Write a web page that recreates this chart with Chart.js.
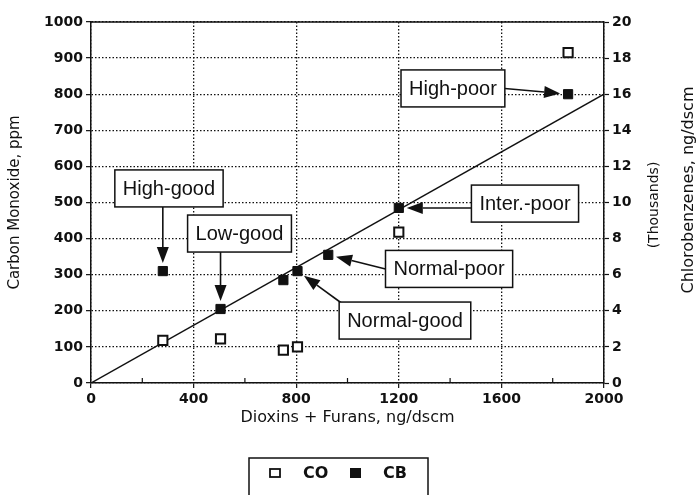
<!DOCTYPE html>
<html><head><meta charset="utf-8">
<script src="https://cdn.jsdelivr.net/npm/chart.js@4"></script>
<style>html,body{margin:0;padding:0;background:#fff}canvas{display:block}</style>
</head><body>
<canvas id="c" width="698" height="495"></canvas>
<script>
// ---- data ----
const coDioxins = [280, 505, 750, 805, 1200, 1860];      // ng/dscm
const coPpm     = [118, 122, 91, 100, 418, 915];         // CO, ppm (left axis)
const cbDioxins = [280, 505, 750, 805, 925, 1200, 1860]; // ng/dscm
const cbThous   = [6.2, 4.1, 5.7, 6.2, 7.1, 9.7, 16.0];  // CB, thousands ng/dscm (right axis)
const fitDioxins = [0, 2000];
const fitCB      = [0, 16];
const annLabels  = ['High-good', 'Low-good', 'Normal-good', 'Normal-poor', 'Inter.-poor', 'High-poor'];
const annTargets = [0, 1, 3, 4, 5, 6];   // index into CB points
const seriesNames = ['CO', 'CB'];
const xTitle = 'Dioxins + Furans, ng/dscm';
const yTitle = 'Carbon Monoxide, ppm';
const y2Title = 'Chlorobenzenes, ng/dscm';
const y2Sub = '(Thousands)';

// ---- layout of annotation boxes (box centre in data units, arrow anchor on box) ----
const annLayout = [
  {cx: 304,  cy: 539, side: 'bottom'},
  {cx: 579,  cy: 414, side: 'bottom'},
  {cx: 1224, cy: 173, fx: 0.03, fy: 0.06},
  {cx: 1396, cy: 316, fx: 0, fy: 0.5},
  {cx: 1692, cy: 497, fx: 0, fy: 0.62},
  {cx: 1411, cy: 816, fx: 1, fy: 0.5}
];

const INK = '#111';
const tickFont = {family: 'DejaVu Sans', size: 14, weight: 'bold'};
const plainTick = v => String(v);

const toXY = (xs, ys) => xs.map((x, i) => ({x: x, y: ys[i]}));

function arrow(ctx, sx, sy, tx, ty, gap) {
  const dx = tx - sx, dy = ty - sy, L = Math.hypot(dx, dy);
  const ux = dx / L, uy = dy / L;
  const ex = tx - ux * gap, ey = ty - uy * gap;
  const hl = 16, hw = 6;
  const bx = ex - ux * hl, by = ey - uy * hl;
  ctx.beginPath();
  ctx.moveTo(sx, sy); ctx.lineTo(bx, by);
  ctx.lineWidth = 1.6; ctx.strokeStyle = INK; ctx.stroke();
  ctx.beginPath();
  ctx.moveTo(ex, ey);
  ctx.lineTo(bx - uy * hw, by + ux * hw);
  ctx.lineTo(bx + uy * hw, by - ux * hw);
  ctx.closePath();
  ctx.fillStyle = INK; ctx.fill();
}

const decor = {
  id: 'decor',
  afterDatasetsDraw(chart) {
    const {ctx, chartArea: a, scales} = chart;
    const x = scales.x, y = scales.y, y2 = scales.y2;
    ctx.save();
    // solid top border
    ctx.strokeStyle = INK; ctx.lineWidth = 1.5;
    ctx.beginPath(); ctx.moveTo(a.left, a.top); ctx.lineTo(a.right, a.top); ctx.stroke();
    // minor x ticks pointing inward
    ctx.lineWidth = 1.2;
    for (let v = 200; v < 2000; v += 400) {
      const px = x.getPixelForValue(v);
      ctx.beginPath(); ctx.moveTo(px, a.bottom); ctx.lineTo(px, a.bottom - 5); ctx.stroke();
    }
    // annotation boxes with arrows
    ctx.font = '20px "Liberation Sans", Arial, sans-serif';
    ctx.textAlign = 'center'; ctx.textBaseline = 'middle';
    annLabels.forEach((lab, i) => {
      const L = annLayout[i];
      const w = ctx.measureText(lab).width + 16, h = 37;
      const cx = x.getPixelForValue(L.cx), cy = y.getPixelForValue(L.cy);
      const bx = cx - w / 2, by = cy - h / 2;
      const k = annTargets[i];
      const tx = x.getPixelForValue(cbDioxins[k]), ty = y2.getPixelForValue(cbThous[k]);
      let sx, sy;
      if (L.side === 'bottom') { sx = tx; sy = by + h; }
      else { sx = bx + L.fx * w; sy = by + L.fy * h; }
      arrow(ctx, sx, sy, tx, ty, 8);
      ctx.fillStyle = '#fff';
      ctx.fillRect(bx, by, w, h);
      ctx.lineWidth = 1.5; ctx.strokeStyle = INK;
      ctx.strokeRect(bx, by, w, h);
      ctx.fillStyle = INK;
      ctx.fillText(lab, cx, cy + 1);
    });
    ctx.restore();
  },
  afterDraw(chart) {
    const {ctx} = chart;
    ctx.save();
    ctx.fillStyle = INK;
    ctx.textAlign = 'center'; ctx.textBaseline = 'middle';
    // right axis titles, reading bottom-to-top
    ctx.save();
    ctx.translate(654, 205); ctx.rotate(-Math.PI / 2);
    ctx.font = '14px "DejaVu Sans", sans-serif';
    ctx.fillText(y2Sub, 0, 0);
    ctx.restore();
    ctx.save();
    ctx.translate(689, 190); ctx.rotate(-Math.PI / 2);
    ctx.font = '16px "DejaVu Sans", sans-serif';
    ctx.fillText(y2Title, 0, 0);
    ctx.restore();
    // legend
    ctx.strokeStyle = INK; ctx.lineWidth = 1.5;
    ctx.strokeRect(249, 458, 179, 45);
    ctx.lineWidth = 1.8;
    ctx.fillStyle = '#fff';
    ctx.fillRect(270, 469, 10, 8); ctx.strokeRect(270, 469, 10, 8);
    ctx.fillStyle = INK;
    ctx.fillRect(350, 468, 11, 10);
    ctx.font = 'bold 16px "DejaVu Sans", sans-serif';
    ctx.textAlign = 'left';
    ctx.fillText(seriesNames[0], 303, 474);
    ctx.fillText(seriesNames[1], 383, 474);
    ctx.restore();
  }
};

new Chart(document.getElementById('c'), {
  type: 'scatter',
  data: {
    datasets: [
      {label: 'fit', data: toXY(fitDioxins, fitCB), yAxisID: 'y2', showLine: true,
       borderColor: INK, borderWidth: 1.5, pointRadius: 0, order: 3},
      {label: seriesNames[0], data: toXY(coDioxins, coPpm), yAxisID: 'y',
       pointStyle: 'rect', pointRadius: 6.5, borderWidth: 2, borderColor: INK, backgroundColor: '#fff', order: 1},
      {label: seriesNames[1], data: toXY(cbDioxins, cbThous), yAxisID: 'y2',
       pointStyle: 'rect', pointRadius: 6.5, borderWidth: 1, borderColor: INK, backgroundColor: INK, order: 2}
    ]
  },
  options: {
    responsive: false,
    animation: false,
    layout: {padding: {top: 22, bottom: 67, left: 0, right: 0}},
    plugins: {legend: {display: false}, tooltip: {enabled: false}},
    scales: {
      x: {
        type: 'linear', min: 0, max: 2000,
        ticks: {stepSize: 400, font: tickFont, color: INK, padding: 3, maxRotation: 0, callback: plainTick},
        grid: {color: '#111', lineWidth: 1.3, tickLength: 5, tickColor: INK, tickWidth: 1.2, tickBorderDash: []},
        border: {color: INK, width: 1.5, dash: [1.5, 2]},
        title: {display: true, text: xTitle, color: INK, font: {family: 'DejaVu Sans', size: 16}, padding: {top: 0, bottom: 1}},
        afterFit: s => { s.height = 45; }
      },
      y: {
        position: 'left', min: 0, max: 1000,
        ticks: {stepSize: 100, font: tickFont, color: INK, padding: 3, callback: plainTick},
        grid: {color: '#111', lineWidth: 1.3, tickLength: 5, tickColor: INK, tickWidth: 1.2, tickBorderDash: []},
        border: {color: INK, width: 1.5, dash: [1.5, 2]},
        title: {display: true, text: yTitle, color: INK, font: {family: 'DejaVu Sans', size: 15}, padding: {top: 6, bottom: 0}},
        afterFit: s => { s.width = 91; }
      },
      y2: {
        position: 'right', min: 0, max: 20,
        ticks: {stepSize: 2, font: tickFont, color: INK, padding: 3, callback: plainTick},
        grid: {drawOnChartArea: false, tickLength: 5, tickColor: INK, tickWidth: 1.2, tickBorderDash: []},
        border: {color: INK, width: 1.5},
        afterFit: s => { s.width = 94; }
      }
    }
  },
  plugins: [decor]
});
</script>
</body></html>
